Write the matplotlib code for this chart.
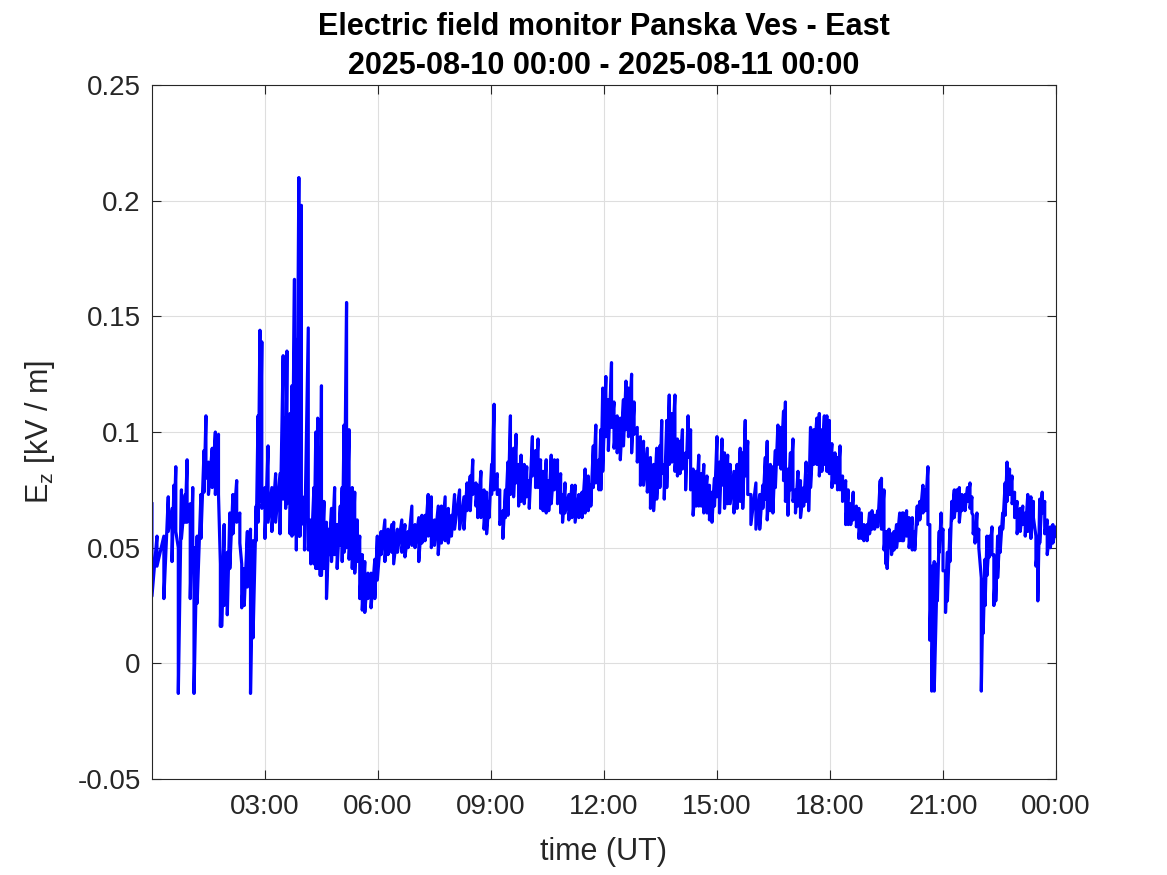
import numpy as np
import matplotlib.pyplot as plt

# === Data (time in minutes after 00:00 UT, Ez band in kV/m) ===
minutes = [
    0, 8, 19, 26, 32, 35, 38, 42, 47, 53,
    56, 61, 65, 67, 72, 78, 83, 86, 90, 96,
    101, 106, 109, 111, 115, 120, 124, 129, 135, 140,
    143, 147, 152, 157, 161, 166, 169, 172, 175, 180,
    185, 191, 197, 204, 209, 213, 215, 220, 223, 227,
    230, 234, 236, 238, 243, 249, 253, 258, 261, 264,
    268, 270, 274, 278, 282, 286, 291, 295, 300, 303,
    306, 310, 314, 319, 323, 327, 331, 335, 339, 344,
    349, 355, 359, 365, 371, 376, 382, 385, 391, 398,
    403, 408, 414, 419, 425, 430, 435, 440, 445, 450,
    456, 461, 467, 472, 477, 482, 490, 497, 502, 507,
    511, 516, 519, 524, 529, 533, 537, 541, 545, 550,
    554, 559, 563, 567, 571, 576, 580, 584, 588, 593,
    597, 601, 606, 611, 615, 619, 623, 628, 632, 636,
    641, 646, 651, 654, 658, 664, 669, 674, 680, 685,
    690, 695, 699, 703, 707, 712, 715, 718, 723, 727,
    732, 736, 741, 746, 751, 755, 759, 764, 768, 773,
    778, 783, 789, 794, 799, 804, 809, 812, 816, 820,
    824, 828, 833, 837, 841, 845, 850, 854, 858, 862,
    867, 871, 875, 879, 884, 888, 892, 896, 900, 904,
    908, 912, 917, 921, 927, 932, 937, 941, 945, 949,
    954, 962, 968, 973, 977, 980, 985, 989, 993, 997,
    1002, 1006, 1009, 1013, 1017, 1021, 1025, 1029, 1033, 1038,
    1042, 1046, 1049, 1054, 1059, 1063, 1067, 1071, 1075, 1079,
    1083, 1088, 1092, 1096, 1100, 1105, 1109, 1113, 1117, 1122,
    1126, 1130, 1134, 1139, 1143, 1147, 1151, 1156, 1160, 1162,
    1166, 1169, 1171, 1174, 1178, 1182, 1186, 1191, 1195, 1197,
    1202, 1206, 1211, 1215, 1219, 1223, 1228, 1232, 1236, 1239,
    1242, 1246, 1251, 1254, 1257, 1260, 1264, 1267, 1271, 1274,
    1278, 1282, 1286, 1290, 1295, 1299, 1303, 1306, 1308, 1311,
    1314, 1317, 1321, 1324, 1327, 1330, 1334, 1338, 1341, 1344,
    1347, 1351, 1355, 1359, 1362, 1366, 1370, 1374, 1378, 1383,
    1387, 1391, 1395, 1400, 1404, 1408, 1411, 1414, 1418, 1422,
    1426, 1431, 1435, 1440,
]

ez_hi = [
    .069, .055, .055, .072, .067, .077, .085, .050, .075, .073,
    .088, .069, .076, .050, .055, .073, .092, .107, .087, .093,
    .100, .099, .043, .043, .060, .048, .065, .073, .079, .065,
    .043, .041, .057, .058, .053, .068, .107, .144, .139, .076,
    .094, .076, .082, .082, .133, .106, .135, .108, .120, .166,
    .140, .210, .192, .198, .072, .145, .062, .076, .100, .106,
    .093, .120, .070, .061, .058, .067, .076, .060, .068, .076,
    .103, .156, .101, .076, .074, .062, .055, .047, .044, .039,
    .039, .045, .055, .057, .062, .058, .060, .061, .058, .062,
    .060, .057, .068, .060, .063, .064, .064, .073, .072, .062,
    .068, .068, .072, .067, .064, .073, .075, .072, .078, .081,
    .088, .078, .077, .083, .075, .074, .070, .086, .112, .082,
    .075, .066, .075, .087, .107, .093, .099, .086, .090, .086,
    .085, .079, .098, .092, .097, .088, .083, .088, .079, .090,
    .088, .088, .082, .073, .078, .073, .077, .077, .073, .074,
    .084, .081, .077, .094, .103, .088, .101, .119, .124, .114,
    .130, .113, .107, .106, .114, .122, .119, .125, .113, .102,
    .098, .096, .093, .089, .086, .093, .094, .105, .086, .105,
    .116, .108, .116, .097, .096, .101, .091, .107, .101, .084,
    .083, .090, .082, .086, .081, .077, .074, .080, .098, .087,
    .097, .091, .090, .086, .083, .086, .093, .091, .105, .096,
    .073, .078, .073, .077, .089, .096, .086, .085, .092, .103,
    .102, .109, .113, .084, .091, .097, .075, .083, .079, .076,
    .087, .081, .102, .101, .106, .108, .101, .107, .107, .105,
    .095, .091, .089, .094, .081, .079, .075, .069, .074, .068,
    .067, .065, .060, .060, .065, .066, .064, .066, .079, .080,
    .075, .057, .057, .058, .056, .057, .060, .065, .065, .065,
    .066, .063, .063, .057, .068, .070, .077, .075, .085, .060,
    .042, .044, .043, .057, .065, .058, .040, .048, .058, .070,
    .075, .075, .076, .073, .073, .076, .078, .072, .064, .060,
    .065, .058, .037, .036, .045, .055, .055, .059, .047, .044,
    .055, .059, .065, .078, .087, .084, .081, .074, .070, .067,
    .068, .065, .073, .072, .070, .055, .050, .071, .074, .070,
    .062, .059, .060, .059,
]

ez_lo = [
    .029, .042, .028, .057, .044, .057, .057, -.013, .054, .061,
    .061, .028, .045, -.013, .026, .054, .074, .080, .073, .076,
    .073, .073, .016, .016, .025, .021, .041, .056, .061, .052,
    .024, .025, .033, -.013, .011, .053, .061, .070, .067, .054,
    .061, .057, .061, .056, .071, .067, .069, .056, .055, .056,
    .049, .055, .055, .060, .049, .049, .043, .043, .041, .041,
    .038, .038, .041, .028, .047, .044, .047, .041, .051, .044,
    .048, .050, .045, .041, .039, .044, .028, .023, .022, .028,
    .024, .028, .036, .047, .044, .047, .048, .043, .048, .048,
    .046, .050, .051, .050, .044, .052, .053, .055, .050, .051,
    .047, .052, .053, .052, .055, .058, .058, .058, .066, .066,
    .073, .068, .063, .063, .058, .056, .063, .073, .075, .073,
    .060, .054, .063, .064, .073, .072, .078, .068, .070, .069,
    .072, .067, .081, .076, .076, .067, .066, .065, .066, .069,
    .075, .069, .065, .061, .065, .062, .063, .061, .063, .063,
    .065, .066, .068, .076, .078, .075, .075, .083, .098, .092,
    .102, .093, .091, .088, .094, .101, .098, .091, .099, .087,
    .077, .077, .074, .067, .066, .071, .076, .082, .071, .076,
    .086, .087, .083, .081, .082, .084, .075, .089, .075, .064,
    .068, .068, .068, .065, .065, .062, .061, .068, .072, .065,
    .077, .067, .069, .069, .065, .067, .070, .067, .081, .073,
    .060, .058, .058, .067, .071, .062, .066, .065, .076, .086,
    .084, .079, .070, .064, .075, .070, .065, .068, .063, .068,
    .070, .066, .076, .086, .086, .081, .083, .086, .083, .082,
    .076, .078, .075, .075, .070, .060, .060, .060, .062, .059,
    .054, .054, .053, .053, .056, .058, .058, .059, .071, .058,
    .049, .043, .041, .050, .047, .049, .050, .053, .053, .053,
    .055, .050, .049, .049, .060, .062, .065, .066, .060, .010,
    -.012, -.012, .027, .048, .055, .040, .022, .027, .044, .062,
    .063, .066, .061, .066, .066, .070, .067, .065, .056, .052,
    .053, .050, -.012, .013, .025, .038, .046, .047, .025, .027,
    .037, .048, .058, .064, .070, .073, .069, .063, .056, .057,
    .060, .055, .057, .054, .063, .042, .027, .052, .065, .056,
    .047, .050, .052, .055,
]

xtick_hours = [3, 6, 9, 12, 15, 18, 21, 24]
xtick_labels = ['03:00', '06:00', '09:00', '12:00', '15:00', '18:00', '21:00', '00:00']
ytick_vals = [-0.05, 0, 0.05, 0.1, 0.15, 0.2, 0.25]
ytick_labels = ['-0.05', '0', '0.05', '0.1', '0.15', '0.2', '0.25']

# === Plot ===
plt.rcParams['font.family'] = ['Liberation Sans', 'DejaVu Sans']
dark = '#262626'

fig = plt.figure(figsize=(11.67, 8.75), dpi=100)
ax = fig.add_axes([0.1302, 0.1097, 0.7747, 0.7931])

t = np.array(minutes) / 60.0
x = np.repeat(t, 2)
y = np.column_stack([ez_hi, ez_lo]).ravel()
ax.plot(x, y, color='#0000ff', lw=2.3)

ax.set_xlim(0, 24)
ax.set_ylim(-0.05, 0.25)
ax.set_xticks(xtick_hours)
ax.set_xticklabels(xtick_labels)
ax.set_yticks(ytick_vals)
ax.set_yticklabels(ytick_labels)

ax.grid(True, color='#dedede', lw=0.8)
ax.set_axisbelow(True)
ax.tick_params(direction='in', length=6.5, width=0.8, top=True, right=True,
               labelsize=20, colors=dark)
ax.tick_params(axis='x', pad=11)
ax.tick_params(axis='y', pad=8)
for s in ax.spines.values():
    s.set_color(dark)
    s.set_linewidth(0.8)

ax.set_xlabel('time (UT)', fontsize=22, color=dark, labelpad=12)
ax.set_ylabel('$\\mathregular{E_z}$ [kV / m]', fontsize=22, color=dark, labelpad=15)
ax.set_title('Electric field monitor Panska Ves - East\n2025-08-10 00:00 - 2025-08-11 00:00',
             fontsize=22, fontweight='bold', color='black', pad=8, linespacing=1.38)

fig.savefig('out.png', dpi=100, facecolor='white')
